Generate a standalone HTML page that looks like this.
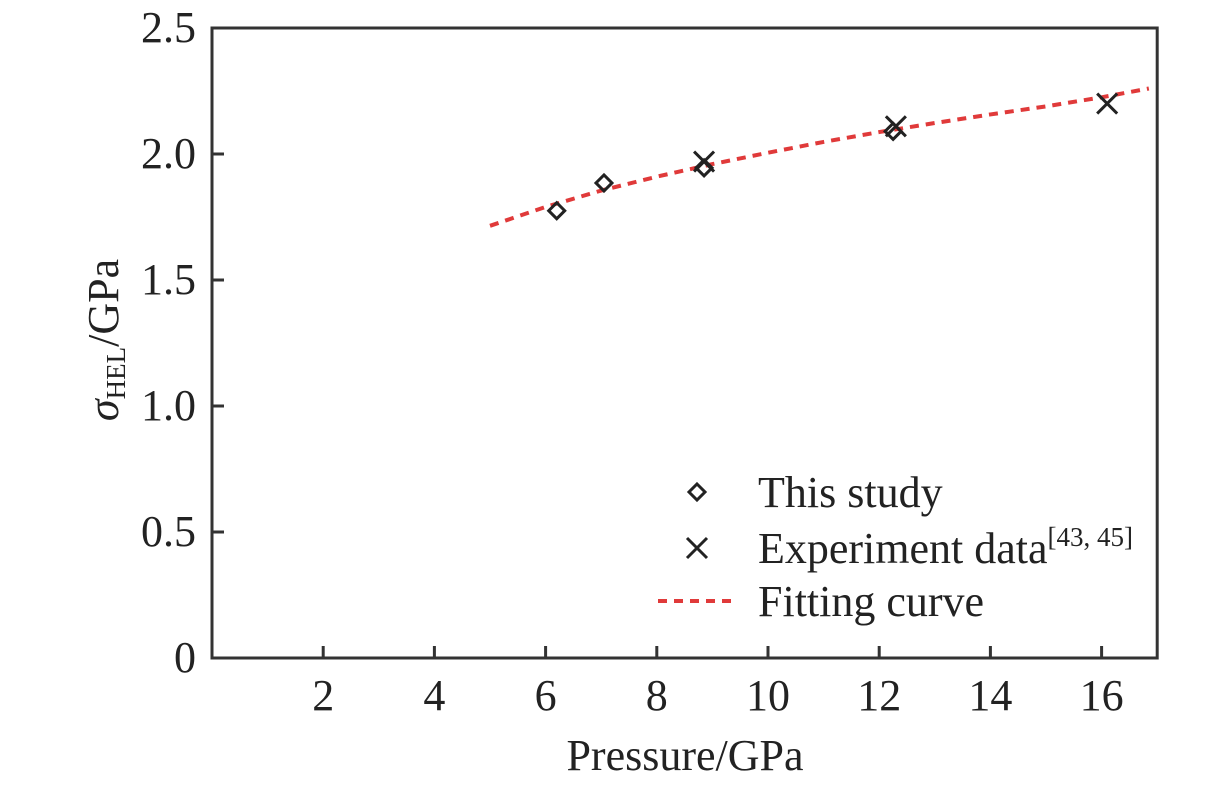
<!DOCTYPE html>
<html><head><meta charset="utf-8"><style>
html,body{margin:0;padding:0;background:#fff;}
svg{display:block;font-family:"Liberation Serif",serif;}
</style></head><body>
<svg id="chart" width="1228" height="787" viewBox="0 0 1228 787" xmlns="http://www.w3.org/2000/svg"></svg>
<script>
const xTicks=[2,4,6,8,10,12,14,16];
const yTicks=[0,0.5,1.0,1.5,2.0,2.5];
const yTickLabels=["0","0.5","1.0","1.5","2.0","2.5"];
const studyX=[6.2,7.05,8.85,12.25];
const studyY=[1.775,1.885,1.945,2.09];
const expX=[8.85,12.3,16.1];
const expY=[1.97,2.11,2.2];
const fitX=[5,6,7,8,9,10,11,12,13,14,15,16,16.85];
const fitY=[1.715,1.79,1.855,1.91,1.96,2.005,2.048,2.087,2.123,2.157,2.189,2.225,2.26];

const X0=212,XS=55.6,Y0=658,YS=252;
const sx=v=>X0+v*XS, sy=v=>Y0-v*YS;
const svg=document.getElementById('chart');
const NS='http://www.w3.org/2000/svg';
function mk(tag,attrs,parent){const e=document.createElementNS(NS,tag);for(const k in attrs)e.setAttribute(k,attrs[k]);(parent||svg).appendChild(e);return e;}

let a=mk('rect',{x:sx(0),y:sy(2.5),width:sx(17)-sx(0),height:Y0-sy(2.5),fill:'none',stroke:'#333','stroke-width':3});



xTicks.forEach(t=>{
  const l=mk('line',{x1:sx(t),x2:sx(t),y1:Y0,y2:Y0-12,stroke:'#333','stroke-width':3});
  
  
  const tx=mk('text',{x:sx(t),y:Y0+52,'text-anchor':'middle','font-size':44,fill:'#222'});
  tx.textContent=t;
  
  
});
yTicks.forEach((t,i)=>{
  if(t>0&&t<2.5){
  const l=mk('line',{x1:X0,x2:X0+12,y1:sy(t),y2:sy(t),stroke:'#333','stroke-width':3});
  
  }
  const tx=mk('text',{x:X0-16,y:sy(t)+14,'text-anchor':'end','font-size':44,fill:'#222'});
  tx.textContent=yTickLabels[i];
  
  
});

let xl=mk('text',{x:685,y:770,'text-anchor':'middle','font-size':44,fill:'#222'});
xl.textContent='Pressure/GPa';


let yl=mk('text',{transform:'translate(118,340) rotate(-90)','text-anchor':'middle','font-size':44,fill:'#222'});
yl.innerHTML='<tspan font-style="italic">σ</tspan><tspan font-size="27" dy="7">HEL</tspan><tspan dy="-7">/GPa</tspan>';



let fp=mk('polyline',{points:fitX.map((x,i)=>sx(x)+','+sy(fitY[i])).join(' '),fill:'none',stroke:'#e03a3a','stroke-width':4,'stroke-dasharray':'9 7'});



function diamond(cx,cy,name){
  const p=mk('polygon',{points:`${cx},${cy-8} ${cx+8},${cy} ${cx},${cy+8} ${cx-8},${cy}`,fill:'none',stroke:'#222','stroke-width':3});
  
  
}
function cross(cx,cy,name){
  const p=mk('path',{d:`M${cx-10} ${cy-10}L${cx+10} ${cy+10}M${cx+10} ${cy-10}L${cx-10} ${cy+10}`,stroke:'#222','stroke-width':3});
  
  
}
studyX.forEach((x,i)=>diamond(sx(x),sy(studyY[i]),'study-point'));
expX.forEach((x,i)=>cross(sx(x),sy(expY[i]),'experiment-point'));

diamond(697,492,'legend-diamond');
cross(697,548,'legend-cross');
let ll=mk('line',{x1:658,x2:738,y1:601,y2:601,stroke:'#e03a3a','stroke-width':4,'stroke-dasharray':'9 7'});


[['This study',507],['Experiment data',563],['Fitting curve',616]].forEach(([t,y])=>{
  const e=mk('text',{x:758,y:y,'font-size':44,fill:'#222'});
  e.textContent=t;
  
  
  if(t==='Experiment data'){const s=mk('tspan',{'font-size':27,dy:-17},e);s.textContent='[43, 45]';}
});
</script>
</body></html>
